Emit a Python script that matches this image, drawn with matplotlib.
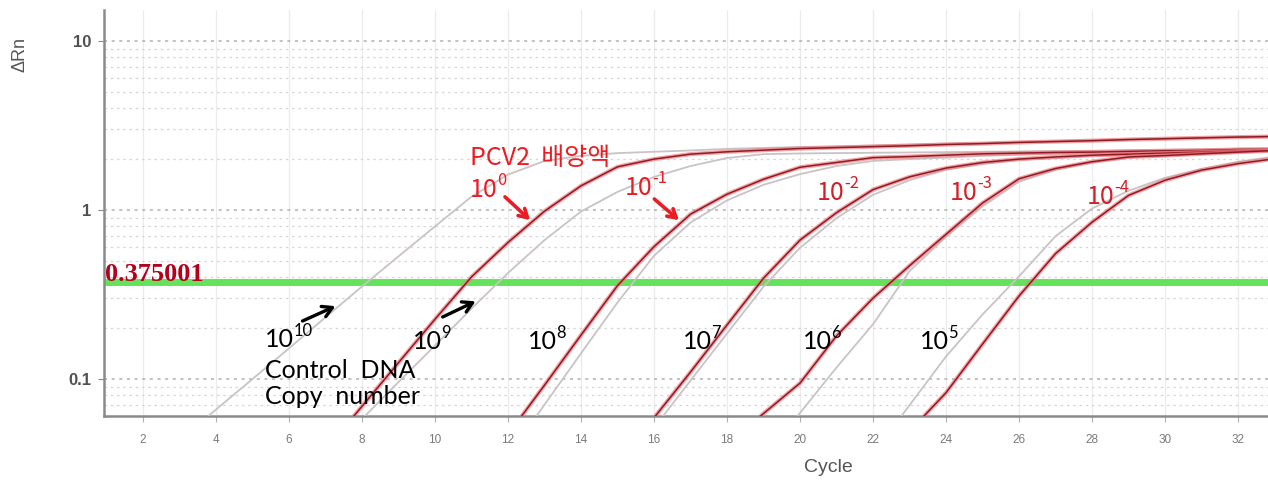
import numpy as np
import matplotlib.pyplot as plt
from matplotlib.ticker import FixedLocator, LogLocator, NullFormatter

# Amplification curves, one value per cycle starting at the given cycle
ctrl_1e10_start = 3
ctrl_1e10 = [0.043, 0.066, 0.100, 0.152, 0.232, 0.353, 0.532, 0.80, 1.20, 1.62, 1.95,
             2.09, 2.17, 2.21, 2.25, 2.30, 2.33, 2.36, 2.38, 2.41, 2.44, 2.47, 2.49,
             2.53, 2.56, 2.59, 2.62, 2.65, 2.68, 2.71, 2.74]
ctrl_1e9_start = 8
ctrl_1e9 = [0.058, 0.096, 0.158, 0.261, 0.424, 0.664, 0.98, 1.28, 1.57, 1.82, 2.03,
            2.14, 2.16, 2.17, 2.18, 2.19, 2.20, 2.21, 2.22, 2.23, 2.24, 2.26, 2.27,
            2.29, 2.30, 2.31]
ctrl_1e8_start = 12
ctrl_1e8 = [0.035, 0.0705, 0.142, 0.284, 0.536, 0.843, 1.14, 1.41, 1.63, 1.82, 1.95,
            2.00, 2.04, 2.09, 2.12, 2.15, 2.17, 2.19, 2.22, 2.24, 2.26, 2.29]
ctrl_1e7_start = 16
ctrl_1e7 = [0.0515, 0.098, 0.186, 0.352, 0.598, 0.895, 1.23, 1.50, 1.73, 1.87, 1.98,
            2.03, 2.09, 2.12, 2.15, 2.18, 2.22, 2.25]
ctrl_1e6_start = 19
ctrl_1e6 = [0.034, 0.063, 0.117, 0.211, 0.435, 0.694, 1.05, 1.47, 1.73, 1.91, 2.04,
            2.09, 2.14, 2.19, 2.23]
ctrl_1e5_start = 22
ctrl_1e5 = [0.036, 0.070, 0.136, 0.241, 0.405, 0.70, 1.02, 1.30, 1.55, 1.75, 1.93, 2.07]

pcv2_0_start = 7
pcv2_0 = [0.038, 0.069, 0.125, 0.226, 0.402, 0.643, 0.984, 1.39, 1.80, 2.00, 2.14,
          2.21, 2.26, 2.31, 2.34, 2.37, 2.40, 2.44, 2.47, 2.51, 2.54, 2.57, 2.61,
          2.64, 2.67, 2.70, 2.72]
pcv2_m1_start = 12
pcv2_m1 = [0.047, 0.092, 0.182, 0.357, 0.607, 0.945, 1.24, 1.52, 1.79, 1.91, 2.04,
           2.07, 2.11, 2.15, 2.17, 2.19, 2.20, 2.22, 2.24, 2.25, 2.28, 2.29]
pcv2_m2_start = 15
pcv2_m2 = [0.0316, 0.059, 0.110, 0.209, 0.395, 0.664, 0.964, 1.32, 1.57, 1.77, 1.91,
           2.00, 2.06, 2.11, 2.14, 2.17, 2.20, 2.23, 2.26]
pcv2_m3_start = 18
pcv2_m3 = [0.041, 0.0625, 0.0946, 0.180, 0.301, 0.468, 0.718, 1.10, 1.53, 1.76, 1.93,
           2.06, 2.10, 2.15, 2.20, 2.25]
pcv2_m4_start = 23
pcv2_m4 = [0.049, 0.083, 0.161, 0.310, 0.552, 0.847, 1.22, 1.50, 1.72, 1.88, 2.01]

threshold = 0.375001
x_ticks = list(range(2, 33, 2))
y_ticks = [0.1, 1, 10]
y_tick_labels = ['0.1', '1', '10']

RED = '#ec1c24'
BLACK_FONT = 'Lato'
RED_FONT = 'Noto Sans CJK KR'

fig = plt.figure(figsize=(12.68, 4.82), dpi=100)
ax = fig.add_axes([104 / 1268, 66 / 482, 1 - 104 / 1268, 406 / 482])
ax.set_yscale('log')
ax.set_xlim(0.93, 32.82)
ax.set_ylim(0.0604, 15.25)

# grid: faint solid verticals, dotted horizontals on every decade step
ax.xaxis.set_major_locator(FixedLocator(x_ticks))
ax.yaxis.set_major_locator(FixedLocator(y_ticks))
ax.set_yticklabels(y_tick_labels)
ax.yaxis.set_minor_locator(LogLocator(base=10, subs=np.arange(2, 10)))
ax.yaxis.set_minor_formatter(NullFormatter())
ax.xaxis.grid(True, color='#ebebeb', lw=0.9, ls='-')
ax.yaxis.grid(True, which='major', color='#b0b0b0', lw=1.1, ls=(0, (2, 3)))
ax.yaxis.grid(True, which='minor', color='#d6d6d6', lw=0.9, ls=(0, (2, 3)))
ax.set_axisbelow(True)

for side in ['top', 'right']:
    ax.spines[side].set_visible(False)
for side in ['left', 'bottom']:
    ax.spines[side].set_color('#8a8a8a')
    ax.spines[side].set_linewidth(1.8)

ax.tick_params(axis='y', which='major', length=4, color='#8a8a8a', pad=5,
               labelsize=12, labelcolor='#505050')
ax.tick_params(axis='y', which='minor', length=0)
ax.tick_params(axis='x', length=4, color='#b0b0b0', pad=9, labelsize=8.5,
               labelcolor='#7a7a7a')
for lab in ax.get_yticklabels():
    lab.set_family('Liberation Sans')
    lab.set_fontweight('bold')
for lab in ax.get_xticklabels():
    lab.set_family('Liberation Sans')

ax.axhline(threshold, color='#64e35a', lw=5, zorder=2)
ax.text(0.96, 0.38, '0.375001', family='Liberation Serif', fontweight='bold',
        fontsize=19, color='#b5001c', va='baseline', ha='left', zorder=5)


def curve(start, values):
    return np.arange(start, start + len(values)), np.array(values)


controls = [(ctrl_1e10_start, ctrl_1e10), (ctrl_1e9_start, ctrl_1e9),
            (ctrl_1e8_start, ctrl_1e8), (ctrl_1e7_start, ctrl_1e7),
            (ctrl_1e6_start, ctrl_1e6), (ctrl_1e5_start, ctrl_1e5)]
dilutions = [(pcv2_0_start, pcv2_0), (pcv2_m1_start, pcv2_m1),
             (pcv2_m2_start, pcv2_m2), (pcv2_m3_start, pcv2_m3),
             (pcv2_m4_start, pcv2_m4)]

for start, vals in controls:
    x, y = curve(start, vals)
    ax.plot(x, y, color='#c9c3c5', lw=1.3, zorder=3)
for start, vals in dilutions:
    x, y = curve(start, vals)
    ax.plot(x, y, color='#f07a80', lw=3.0, alpha=0.7, zorder=4)
    ax.plot(x, y, color='#8e1b24', lw=1.1, zorder=4)


def power_label(x, y, exp, color, family, size):
    base = ax.text(x, y, '10', color=color, family=family, fontsize=size,
                   ha='left', va='baseline', zorder=6)
    ax.annotate(exp, xy=(1.0, 1.0), xycoords=base, xytext=(-0.5, 0.2 * size),
                textcoords='offset points', ha='left', va='top',
                color=color, family=family, fontsize=size * 0.66, zorder=6)


# PCV2 culture dilutions (red)
ax.text(10.96, 1.85, 'PCV2  배양액', color=RED, family=RED_FONT, fontsize=18,
        ha='left', va='baseline', zorder=6)
power_label(10.96, 1.19, '0', RED, RED_FONT, 18)
power_label(15.2, 1.227, '-1', RED, RED_FONT, 18)
power_label(20.47, 1.146, '-2', '#d21f28', RED_FONT, 18)
power_label(24.11, 1.146, '-3', '#d21f28', RED_FONT, 18)
power_label(27.86, 1.085, '-4', '#d21f28', RED_FONT, 18)
red_arrow = dict(arrowstyle='->,head_length=0.6,head_width=0.35', color=RED, lw=2.6)
ax.annotate('', xy=(12.66, 0.849), xytext=(11.86, 1.227), arrowprops=red_arrow, zorder=6)
ax.annotate('', xy=(16.74, 0.849), xytext=(15.95, 1.19), arrowprops=red_arrow, zorder=6)

# control DNA copy numbers (black)
power_label(5.34, 0.1546, '10', 'black', BLACK_FONT, 18)
ax.text(5.34, 0.1014, 'Control  DNA', color='black', family=BLACK_FONT, fontsize=18,
        ha='left', va='baseline', zorder=6)
ax.text(5.34, 0.0711, 'Copy  number', color='black', family=BLACK_FONT, fontsize=18,
        ha='left', va='baseline', zorder=6)
power_label(9.40, 0.150, '9', 'black', BLACK_FONT, 18)
power_label(12.55, 0.150, '8', 'black', BLACK_FONT, 18)
power_label(16.79, 0.150, '7', 'black', BLACK_FONT, 18)
power_label(20.08, 0.150, '6', 'black', BLACK_FONT, 18)
power_label(23.29, 0.150, '5', 'black', BLACK_FONT, 18)
black_arrow = dict(arrowstyle='->,head_length=0.7,head_width=0.4', color='black', lw=2.4)
ax.annotate('', xy=(7.34, 0.274), xytext=(6.30, 0.217), arrowprops=black_arrow, zorder=6)
ax.annotate('', xy=(11.18, 0.293), xytext=(10.14, 0.229), arrowprops=black_arrow, zorder=6)

fig.text(20 / 1268, 1 - 55 / 482, 'ΔRn', rotation=90, ha='center', va='center',
         fontsize=13, color='#555555', family='Liberation Sans')
fig.text(828 / 1268, 1 - 467 / 482, 'Cycle', ha='center', va='center',
         fontsize=14, color='#555555', family='Liberation Sans')

fig.savefig('out.png', dpi=100)
